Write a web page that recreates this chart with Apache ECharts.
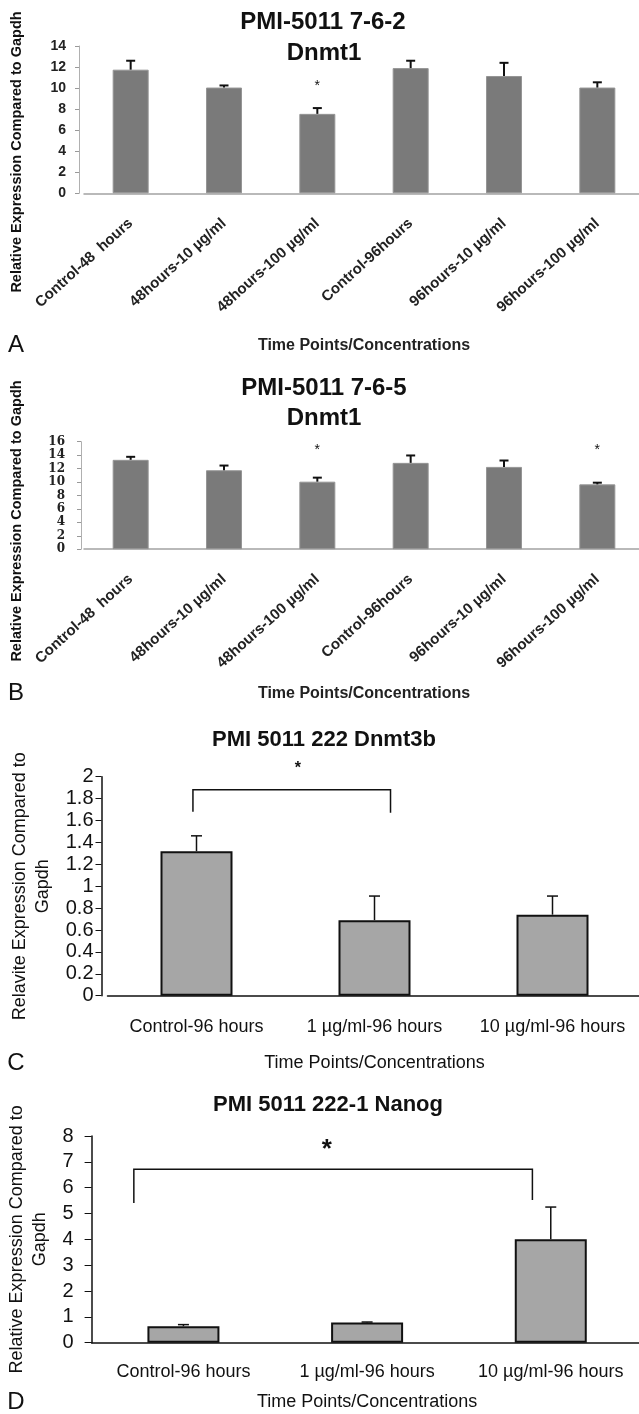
<!DOCTYPE html>
<html>
<head>
<meta charset="utf-8">
<script src="https://cdn.jsdelivr.net/npm/echarts@6.0.0/dist/echarts.min.js"></script>
<style>
  html, body { margin: 0; padding: 0; background: #fff; }
  #main { width: 639px; height: 1414px; }
</style>
</head>
<body>
<div id="main"></div>
<script>
// panels A and B - Dnmt1, six time points / concentrations
var catsAB = ['Control-48  hours', '48hours-10 µg/ml', '48hours-100 µg/ml', 'Control-96hours', '96hours-10 µg/ml', '96hours-100 µg/ml'];
var meanA = [11.75, 10.05, 7.55, 11.9, 11.15, 10.05];
var upperA = [12.6, 10.25, 8.1, 12.6, 12.4, 10.55];
var starsA = [[2, 10.2]];
var meanB = [13.3, 11.75, 10.05, 12.85, 12.25, 9.65];
var upperB = [13.75, 12.45, 10.65, 13.95, 13.2, 9.9];
var starsB = [[2, 14.7], [5, 14.7]];

// panels C and D - 96 hour treatments
var catsCD = ['Control-96 hours', '1 µg/ml-96 hours', '10 µg/ml-96 hours'];
var meanC = [1.32, 0.69, 0.74];
var upperC = [1.46, 0.91, 0.91];
var meanD = [0.64, 0.78, 4.0];
var upperD = [0.7, 0.8, 5.25];
// significance brackets: [xLeft, xRight, yTop, yLeftEnd, yRightEnd]
var bracketC = [[-0.02, 1.09, 1.88, 1.68, 1.67]];
var starC = [[0.57, 2.07]];
var bracketD = [[-0.27, 1.9, 6.71, 5.41, 5.52]];
var starD = [[0.78, 7.46]];

var FONT = 'Liberation Sans, Arial, sans-serif';

function withErr(mean, upper) {
    return mean.map(function (v, i) { return [i, v, upper[i]]; });
}

function errRender(capW, lw) {
    return function (params, api) {
        var x = api.value(0);
        var p0 = api.coord([x, api.value(1)]);
        var p1 = api.coord([x, api.value(2)]);
        var st = { stroke: '#111', lineWidth: lw };
        return {
            type: 'group',
            children: [
                { type: 'line', shape: { x1: p0[0], y1: p0[1], x2: p1[0], y2: p1[1] }, style: st },
                { type: 'line', shape: { x1: p1[0] - capW / 2, y1: p1[1], x2: p1[0] + capW / 2, y2: p1[1] }, style: st }
            ]
        };
    };
}

function starRender(size, weight) {
    return function (params, api) {
        var p = api.coord([api.value(0), api.value(1)]);
        return {
            type: 'text', x: p[0], y: p[1],
            style: { text: '*', font: weight + ' ' + size + 'px ' + FONT, fill: '#111', align: 'center', verticalAlign: 'middle' }
        };
    };
}

function bracketRender(params, api) {
    var a = api.coord([api.value(0), api.value(3)]);
    var b = api.coord([api.value(0), api.value(2)]);
    var c = api.coord([api.value(1), api.value(2)]);
    var d = api.coord([api.value(1), api.value(4)]);
    return {
        type: 'polyline',
        shape: { points: [a, b, c, d] },
        style: { stroke: '#111', lineWidth: 1.5, fill: null }
    };
}

function txt(text, x, y, size, weight, rot) {
    return {
        type: 'text', x: x, y: y, rotation: rot || 0,
        style: { text: text, font: weight + ' ' + size + 'px ' + FONT, fill: '#111', align: 'center', verticalAlign: 'middle' }
    };
}

var chart = echarts.init(document.getElementById('main'));

var greyAxis = { lineStyle: { color: '#a3a3a3', width: 1.5 } };
var blackAxis = { lineStyle: { color: '#111', width: 1.5 } };

var option = {
    animation: false,
    backgroundColor: '#fff',
    grid: [
        { left: 84, top: 46, width: 560, height: 147.3, containLabel: false, outerBoundsMode: 'none' },
        { left: 84, top: 441.7, width: 560, height: 107.5, containLabel: false, outerBoundsMode: 'none' },
        { left: 107.5, top: 776.7, width: 534, height: 219, containLabel: false, outerBoundsMode: 'none' },
        { left: 91.6, top: 1136, width: 551, height: 206.7, containLabel: false, outerBoundsMode: 'none' }
    ],
    xAxis: [
        {
            gridIndex: 0, type: 'category', data: catsAB,
            axisLine: greyAxis, axisTick: { show: false },
            axisLabel: { rotate: 42, margin: 28, interval: 0, fontFamily: FONT, fontSize: 15, fontWeight: 'bold', color: '#222' },
            name: 'Time Points/Concentrations', nameLocation: 'middle', nameGap: 144,
            nameTextStyle: { fontFamily: FONT, fontSize: 16, fontWeight: 'bold', color: '#222' }
        },
        {
            gridIndex: 1, type: 'category', data: catsAB,
            axisLine: greyAxis, axisTick: { show: false },
            axisLabel: { rotate: 42, margin: 28, interval: 0, fontFamily: FONT, fontSize: 15, fontWeight: 'bold', color: '#222' },
            name: 'Time Points/Concentrations', nameLocation: 'middle', nameGap: 136,
            nameTextStyle: { fontFamily: FONT, fontSize: 16, fontWeight: 'bold', color: '#222' }
        },
        {
            gridIndex: 2, type: 'category', data: catsCD,
            axisLine: blackAxis, axisTick: { show: false },
            axisLabel: { margin: 22, interval: 0, fontFamily: FONT, fontSize: 18, color: '#111' },
            name: 'Time Points/Concentrations', nameLocation: 'middle', nameGap: 58,
            nameTextStyle: { fontFamily: FONT, fontSize: 18, color: '#111' }
        },
        { gridIndex: 2, type: 'value', show: false, min: -0.5, max: 2.5 },
        {
            gridIndex: 3, type: 'category', data: catsCD,
            axisLine: blackAxis, axisTick: { show: false },
            axisLabel: { margin: 20, interval: 0, fontFamily: FONT, fontSize: 18, color: '#111' },
            name: 'Time Points/Concentrations', nameLocation: 'middle', nameGap: 50,
            nameTextStyle: { fontFamily: FONT, fontSize: 18, color: '#111' }
        },
        { gridIndex: 3, type: 'value', show: false, min: -0.5, max: 2.5 }
    ],
    yAxis: [
        {
            gridIndex: 0, type: 'value', min: 0, max: 14, interval: 2, offset: 5,
            axisLine: { show: true, lineStyle: { color: '#b0b0b0', width: 1 } },
            axisTick: { show: true, length: 4, lineStyle: { color: '#999' } },
            splitLine: { show: false },
            axisLabel: { margin: 13, fontFamily: FONT, fontSize: 14, fontWeight: 'bold', color: '#222' }
        },
        {
            gridIndex: 1, type: 'value', min: 0, max: 16, interval: 2, offset: 3,
            axisLine: { show: true, lineStyle: { color: '#b0b0b0', width: 1 } },
            axisTick: { show: true, length: 4, lineStyle: { color: '#999' } },
            splitLine: { show: false },
            axisLabel: { margin: 16, fontFamily: 'DejaVu Serif, serif', fontSize: 12, fontWeight: 'bold', color: '#222' }
        },
        {
            gridIndex: 2, type: 'value', min: 0, max: 2, interval: 0.2, offset: 6,
            axisLine: { show: true, onZero: false, lineStyle: { color: '#111', width: 1.5 } },
            axisTick: { show: true, length: 6, lineStyle: { color: '#111' } },
            splitLine: { show: false },
            axisLabel: { margin: 8, fontFamily: FONT, fontSize: 20, color: '#111' },
            name: 'Relavite Expression Compared to\nGapdh', nameLocation: 'middle', nameGap: 45, nameRotate: 90,
            nameTextStyle: { fontFamily: FONT, fontSize: 18, lineHeight: 23, color: '#111', align: 'center' }
        },
        {
            gridIndex: 3, type: 'value', min: 0, max: 8, interval: 1,
            axisLine: { show: true, onZero: false, lineStyle: { color: '#111', width: 1.5 } },
            axisTick: { show: true, length: 7, lineStyle: { color: '#111' } },
            splitLine: { show: false },
            axisLabel: { margin: 18, fontFamily: FONT, fontSize: 20, color: '#111' },
            name: 'Relative Expression Compared to\nGapdh', nameLocation: 'middle', nameGap: 35, nameRotate: 90,
            nameTextStyle: { fontFamily: FONT, fontSize: 18, lineHeight: 23, color: '#111', align: 'center' }
        }
    ],
    series: [
        { type: 'bar', xAxisIndex: 0, yAxisIndex: 0, data: meanA, barWidth: 36,
          itemStyle: { color: '#7a7a7a', borderColor: '#959595', borderWidth: 1 } },
        { type: 'custom', xAxisIndex: 0, yAxisIndex: 0, data: withErr(meanA, upperA), renderItem: errRender(9, 2), z: 5 },
        { type: 'custom', xAxisIndex: 0, yAxisIndex: 0, data: starsA, renderItem: starRender(14, 'normal'), z: 5 },

        { type: 'bar', xAxisIndex: 1, yAxisIndex: 1, data: meanB, barWidth: 36,
          itemStyle: { color: '#7a7a7a', borderColor: '#959595', borderWidth: 1 } },
        { type: 'custom', xAxisIndex: 1, yAxisIndex: 1, data: withErr(meanB, upperB), renderItem: errRender(9, 2), z: 5 },
        { type: 'custom', xAxisIndex: 1, yAxisIndex: 1, data: starsB, renderItem: starRender(14, 'normal'), z: 5 },

        { type: 'bar', xAxisIndex: 2, yAxisIndex: 2, data: meanC, barWidth: 72,
          itemStyle: { color: '#a6a6a6', borderColor: '#111', borderWidth: 2 } },
        { type: 'custom', xAxisIndex: 2, yAxisIndex: 2, data: withErr(meanC, upperC), renderItem: errRender(11, 1.5), z: 5 },
        { type: 'custom', xAxisIndex: 3, yAxisIndex: 2, data: bracketC, renderItem: bracketRender, clip: false, z: 5 },
        { type: 'custom', xAxisIndex: 3, yAxisIndex: 2, data: starC, renderItem: starRender(16, 'bold'), clip: false, z: 5 },

        { type: 'bar', xAxisIndex: 4, yAxisIndex: 3, data: meanD, barWidth: 72,
          itemStyle: { color: '#a6a6a6', borderColor: '#111', borderWidth: 2 } },
        { type: 'custom', xAxisIndex: 4, yAxisIndex: 3, data: withErr(meanD, upperD), renderItem: errRender(11, 1.5), z: 5 },
        { type: 'custom', xAxisIndex: 5, yAxisIndex: 3, data: bracketD, renderItem: bracketRender, clip: false, z: 5 },
        { type: 'custom', xAxisIndex: 5, yAxisIndex: 3, data: starD, renderItem: starRender(26, 'bold'), clip: false, z: 5 }
    ],
    graphic: [
        txt('PMI-5011 7-6-2', 323, 22, 24, 'bold'),
        txt('Dnmt1', 324, 53, 24, 'bold'),
        txt('Relative Expression Compared to Gapdh', 17, 152, 14.5, 'bold', Math.PI / 2),
        txt('A', 16, 345, 24, 'normal'),

        txt('PMI-5011 7-6-5', 324, 388, 24, 'bold'),
        txt('Dnmt1', 324, 418, 24, 'bold'),
        txt('Relative Expression Compared to Gapdh', 17, 521, 14.5, 'bold', Math.PI / 2),
        txt('B', 16, 693, 24, 'normal'),

        txt('PMI 5011 222 Dnmt3b', 324, 740, 22, 'bold'),
        txt('C', 16, 1063, 24, 'normal'),

        txt('PMI 5011 222-1 Nanog', 328, 1105, 22, 'bold'),
        txt('D', 16, 1402, 24, 'normal')
    ]
};

chart.setOption(option);
</script>
</body>
</html>
